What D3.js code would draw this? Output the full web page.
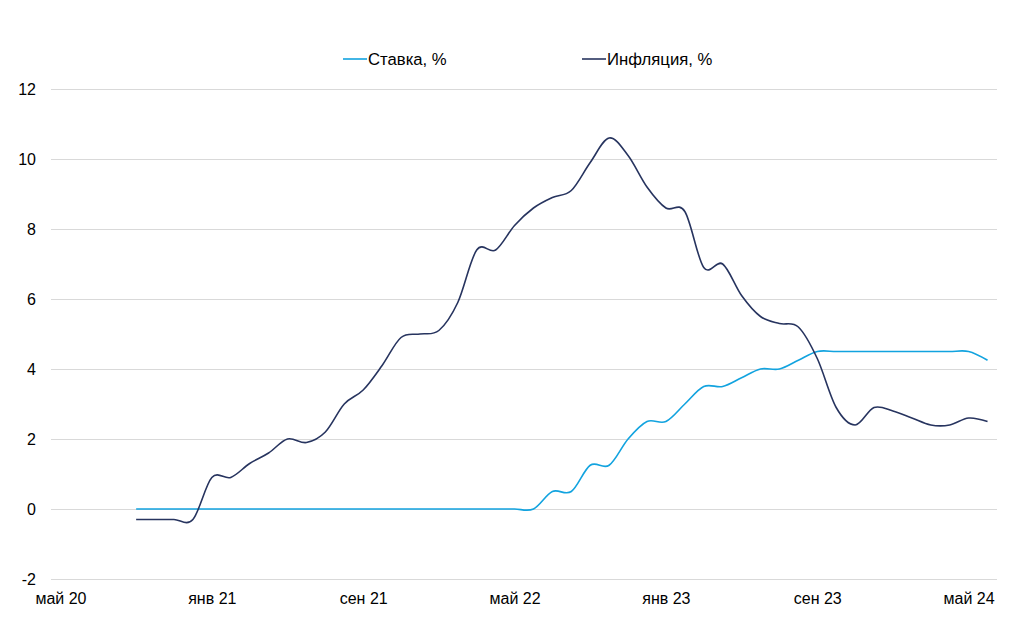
<!DOCTYPE html>
<html><head><meta charset="utf-8">
<script src="https://cdn.jsdelivr.net/npm/d3@7"></script>
<style>
html,body{margin:0;padding:0;background:#fff;}
svg{display:block;font-family:"Liberation Sans",Arial,sans-serif;}
</style></head>
<body><svg id="c" width="1024" height="638"></svg>
<script>
// Month categories of the data (Sep 2020 – Jun 2024)
const months = ["2020-09","2020-10","2020-11","2020-12",
"2021-01","2021-02","2021-03","2021-04","2021-05","2021-06","2021-07","2021-08","2021-09","2021-10","2021-11","2021-12",
"2022-01","2022-02","2022-03","2022-04","2022-05","2022-06","2022-07","2022-08","2022-09","2022-10","2022-11","2022-12",
"2023-01","2023-02","2023-03","2023-04","2023-05","2023-06","2023-07","2023-08","2023-09","2023-10","2023-11","2023-12",
"2024-01","2024-02","2024-03","2024-04","2024-05","2024-06"];
const rate = [0,0,0,0,
0,0,0,0,0,0,0,0,0,0,0,0,
0,0,0,0,0,0,0.5,0.5,1.25,1.25,2.0,2.5,
2.5,3.0,3.5,3.5,3.75,4.0,4.0,4.25,4.5,4.5,4.5,4.5,
4.5,4.5,4.5,4.5,4.5,4.25];
const inflation = [-0.3,-0.3,-0.3,-0.3,
0.9,0.9,1.3,1.6,2.0,1.9,2.2,3.0,3.4,4.1,4.9,5.0,
5.1,5.9,7.4,7.4,8.1,8.6,8.9,9.1,9.9,10.6,10.1,9.2,
8.6,8.5,6.9,7.0,6.1,5.5,5.3,5.2,4.3,2.9,2.4,2.9,
2.8,2.6,2.4,2.4,2.6,2.5];
const xTickMonths = ["2020-05","2021-01","2021-09","2022-05","2023-01","2023-09","2024-05"];
const xTickLabels = ["май 20","янв 21","сен 21","май 22","янв 23","сен 23","май 24"];
const yTicks = [-2,0,2,4,6,8,10,12];
const seriesNames = ["Ставка, %","Инфляция, %"];

const colors = {rate:"#12a3df", infl:"#27345f", grid:"#d9d9d9"};
const svg = d3.select("#c");
const L=51, R=997, T=89, B=579;

const mi = s => { const [y,m]=s.split("-").map(Number); return (y-2020)*12 + (m-5); };
const x = d3.scaleLinear().domain([-0.5, 49.5]).range([L,R]);
const y = d3.scaleLinear().domain([-2,12]).range([B,T]);

// grid + y labels
const ya = svg.append("g").attr("transform",`translate(${L},0)`)
  .call(d3.axisLeft(y).tickValues(yTicks).tickSize(-(R-L)).tickPadding(15).tickFormat(d=>String(d)));
ya.select(".domain").remove();
ya.selectAll(".tick line").attr("stroke",colors.grid).attr("stroke-width",1);
ya.selectAll(".tick text").attr("fill","#000").style("font-size","16px");

// x labels
const xa = svg.append("g").attr("transform",`translate(0,${B})`)
  .call(d3.axisBottom(x).tickValues(xTickMonths.map(mi)).tickSize(0).tickPadding(14)
  .tickFormat((d,i)=>xTickLabels[i]));
xa.select(".domain").remove();
xa.selectAll(".tick text").attr("fill","#000").style("font-size","16px");

const line = d3.line().x((d,i)=>x(mi(months[i]))).y(d=>y(d)).curve(d3.curveCardinal.tension(0));
svg.append("path").datum(rate).attr("d",line).attr("fill","none")
  .attr("stroke",colors.rate).attr("stroke-width",1.6);
svg.append("path").datum(inflation).attr("d",line).attr("fill","none")
  .attr("stroke",colors.infl).attr("stroke-width",1.6);

// legend
const leg = [{n:seriesNames[0],c:colors.rate,x:343},{n:seriesNames[1],c:colors.infl,x:582}];
const lg = svg.append("g");
leg.forEach(d=>{
  lg.append("line").attr("x1",d.x).attr("x2",d.x+24).attr("y1",59).attr("y2",59)
    .attr("stroke",d.c).attr("stroke-width",1.6);
  lg.append("text").attr("x",d.x+25).attr("y",64.5).text(d.n)
    .attr("fill","#000").style("font-size","16.7px");
});
</script></body></html>
